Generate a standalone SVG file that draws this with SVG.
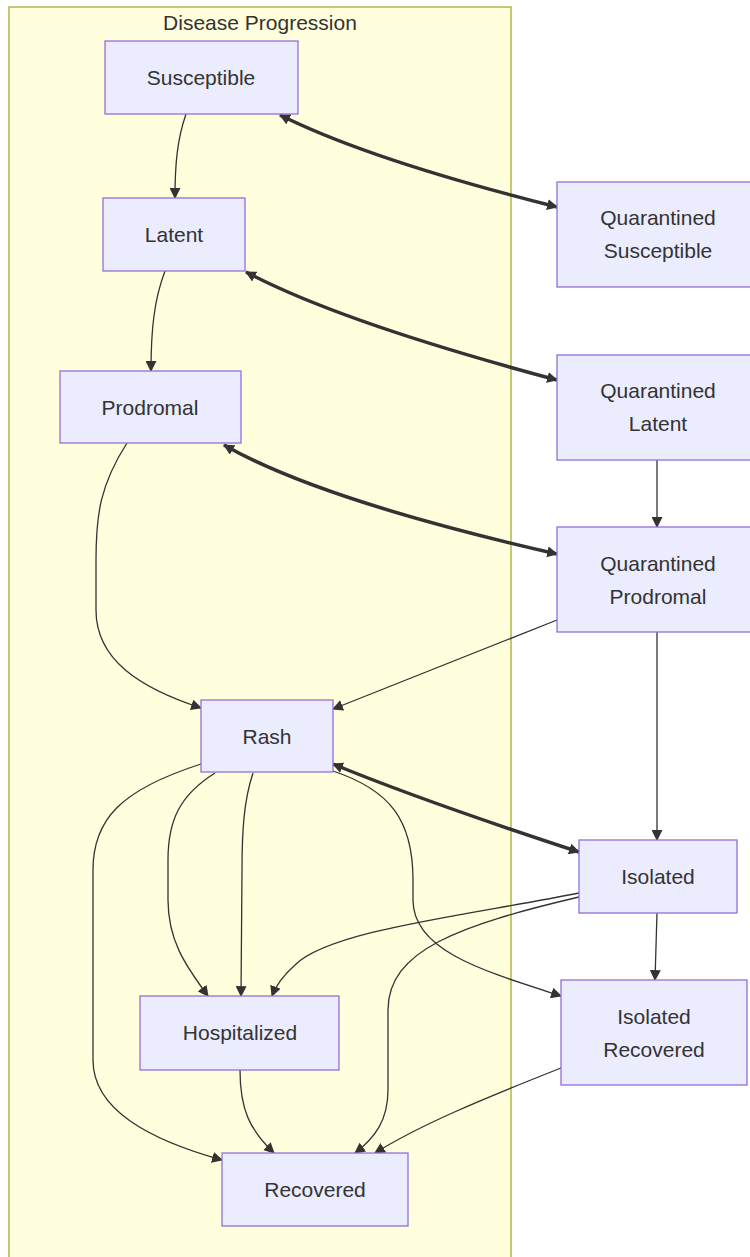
<svg xmlns="http://www.w3.org/2000/svg" width="750" height="1257" viewBox="0 0 750 1257">
<style>
.cluster{fill:#ffffde;stroke:#aaaa33;stroke-width:1.3}
.node rect{fill:#ececff;stroke:#9370db;stroke-width:1.3}
text{font-family:"Liberation Sans",Arial,sans-serif;font-size:21px;fill:#333333;text-anchor:middle}
.node text{dominant-baseline:central}
.edge{fill:none;stroke:#333333;stroke-width:1.3;marker-end:url(#arrow)}
.thick{fill:none;stroke:#333333;stroke-width:3.5;marker-end:url(#arrow);marker-start:url(#arrow)}
</style>
<defs>
<marker id="arrow" viewBox="0 0 10 10" refX="9" refY="5" markerWidth="11" markerHeight="11" markerUnits="userSpaceOnUse" orient="auto-start-reverse">
<path d="M0,0 L10,5 L0,10 z" fill="#333333"/>
</marker>
</defs>
<rect width="750" height="1257" fill="#ffffff"/>
<g id="cluster-disease-progression">
<rect class="cluster" x="9" y="7" width="502" height="1270"/>
<text x="260" y="22" dominant-baseline="central">Disease Progression</text>
</g>
<g id="connectors">
<path class="edge" d="M186,114 C177,140 175,165 175,198"/>
<path class="thick" d="M280,115 Q370,160 557,207"/>
<path class="edge" d="M165,271 C154,300 151,330 151,371"/>
<path class="thick" d="M246,272 Q340,322 557,380"/>
<path class="edge" d="M657,460 L657,527"/>
<path class="thick" d="M224,445 Q320,500 557,554"/>
<path class="edge" d="M127,443 C100,485 96,515 96,560 L96,610 C96,660 140,688 201,708"/>
<path class="edge" d="M557,620 L333,709"/>
<path class="edge" d="M657,632 L657,840"/>
<path class="thick" d="M333,764 Q420,800 579,852"/>
<path class="edge" d="M201,764 C120,790 93,820 93,870 L93,1060 C93,1110 150,1140 222,1160"/>
<path class="edge" d="M215,773 C180,795 168,820 168,860 L168,900 C168,940 185,965 208,996"/>
<path class="edge" d="M253,773 C244,800 242,830 242,870 L241,996"/>
<path class="edge" d="M333,771 C390,790 413,820 413,880 L413,900 C413,950 480,970 561,996"/>
<path class="edge" d="M579,893 C470,915 330,930 295,965 Q278,980 272,996"/>
<path class="edge" d="M579,897 C460,925 388,950 388,1010 L388,1090 C388,1120 375,1138 355,1153"/>
<path class="edge" d="M657,913 L655,980"/>
<path class="edge" d="M240,1070 C240,1110 250,1130 274,1153"/>
<path class="edge" d="M561,1068 C480,1100 420,1125 375,1153"/>
</g>
<g id="node-susceptible" class="node">
<rect x="105" y="41" width="193" height="73"/>
<text x="201" y="77">Susceptible</text>
</g>
<g id="node-latent" class="node">
<rect x="103" y="198" width="142" height="73"/>
<text x="174" y="234">Latent</text>
</g>
<g id="node-prodromal" class="node">
<rect x="60" y="371" width="181" height="72"/>
<text x="150" y="407">Prodromal</text>
</g>
<g id="node-quarantined-susceptible" class="node">
<rect x="557" y="182" width="203" height="105"/>
<text x="658" y="217">Quarantined</text>
<text x="658" y="250">Susceptible</text>
</g>
<g id="node-quarantined-latent" class="node">
<rect x="557" y="355" width="203" height="105"/>
<text x="658" y="390">Quarantined</text>
<text x="658" y="423">Latent</text>
</g>
<g id="node-quarantined-prodromal" class="node">
<rect x="557" y="527" width="203" height="105"/>
<text x="658" y="563">Quarantined</text>
<text x="658" y="596">Prodromal</text>
</g>
<g id="node-rash" class="node">
<rect x="201" y="700" width="132" height="72"/>
<text x="267" y="736">Rash</text>
</g>
<g id="node-isolated" class="node">
<rect x="579" y="840" width="158" height="73"/>
<text x="658" y="876">Isolated</text>
</g>
<g id="node-hospitalized" class="node">
<rect x="140" y="996" width="199" height="74"/>
<text x="240" y="1032">Hospitalized</text>
</g>
<g id="node-isolated-recovered" class="node">
<rect x="561" y="980" width="186" height="105"/>
<text x="654" y="1016">Isolated</text>
<text x="654" y="1049">Recovered</text>
</g>
<g id="node-recovered" class="node">
<rect x="222" y="1153" width="186" height="73"/>
<text x="315" y="1189">Recovered</text>
</g>
</svg>
